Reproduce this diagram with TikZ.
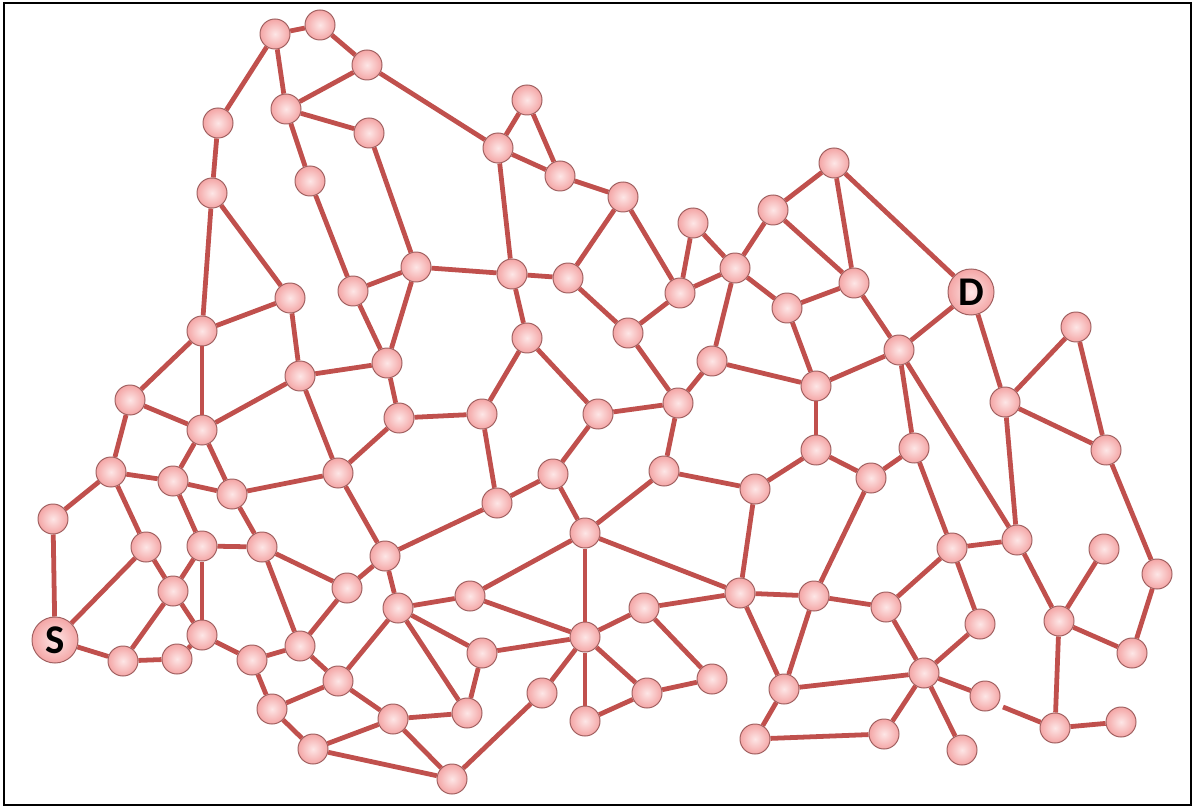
\documentclass[tikz,border=0pt]{standalone}
\usepackage{xcolor}
\usepackage{fontspec}
\setsansfont{Carlito}
\usepackage{tikz}
\definecolor{linkred}{RGB}{192,80,77}
\definecolor{rimred}{RGB}{160,96,96}
\definecolor{pinkin}{RGB}{253,230,230}
\definecolor{pinkout}{RGB}{244,166,166}

\begin{document}
\begin{tikzpicture}[x=0.025cm,y=-0.025cm,line width=3pt]
	    \tikzstyle{host}=[draw=rimred,line width=0.7pt,shape=circle,inner color=pinkin,outer color=pinkout,minimum size=0.75cm,inner sep=0pt]
	    \tikzstyle{term}=[host,minimum size=1.15cm,font=\sffamily\bfseries\fontsize{29}{31}\selectfont]
	    \tikzstyle{link}=[draw=linkred,line width=3.4pt]

	    \useasboundingbox (0,0) rectangle (1194,806);
	    \draw[line width=1pt,black] (4,3) rectangle (1191,805);

	    \node[host](v1) at (275,34){};
	    \node[host](v2) at (320,25){};
	    \node[host](v3) at (367,65){};
	    \node[host](v4) at (286,109){};
	    \node[host](v5) at (369,133){};
	    \node[host](v6) at (218,123){};
	    \node[host](v7) at (212,193){};
	    \node[host](v8) at (310,181){};
	    \node[host](v9) at (290,298){};
	    \node[host](v10) at (202,331){};
	    \node[host](v11) at (353,291){};
	    \node[host](v12) at (416,267){};
	    \node[host](v13) at (387,363){};
	    \node[host](v14) at (300,376){};
	    \node[host](v15) at (130,400){};
	    \node[host](v16) at (202,430){};
	    \node[host](v17) at (111,472){};
	    \node[host](v18) at (173,481){};
	    \node[host](v19) at (232,494){};
	    \node[host](v20) at (338,473){};
	    \node[host](v21) at (399,418){};
	    \node[host](v22) at (482,414){};
	    \node[host](v23) at (53,519){};
	    \node[host](v24) at (146,547){};
	    \node[host](v25) at (202,546){};
	    \node[host](v26) at (262,547){};
	    \node[host](v27) at (173,591){};
	    \node[host](v28) at (202,635){};
	    \node[term](src) at (55,640){S};
	    \node[host](v30) at (123,661){};
	    \node[host](v31) at (177,659){};
	    \node[host](v32) at (252,660){};
	    \node[host](v33) at (300,646){};
	    \node[host](v34) at (347,588){};
	    \node[host](v35) at (385,556){};
	    \node[host](v36) at (338,681){};
	    \node[host](v37) at (272,709){};
	    \node[host](v38) at (393,719){};
	    \node[host](v39) at (313,749){};
	    \node[host](v40) at (452,779){};
	    \node[host](v41) at (467,713){};
	    \node[host](v42) at (398,608){};
	    \node[host](v43) at (470,596){};
	    \node[host](v44) at (482,653){};
	    \node[host](v45) at (542,693){};
	    \node[host](v46) at (497,503){};
	    \node[host](v47) at (553,474){};
	    \node[host](v48) at (585,533){};
	    \node[host](v49) at (585,637){};
	    \node[host](v50) at (585,721){};
	    \node[host](v51) at (644,608){};
	    \node[host](v52) at (647,693){};
	    \node[host](v53) at (712,679){};
	    \node[host](v54) at (740,593){};
	    \node[host](v55) at (664,471){};
	    \node[host](v56) at (598,414){};
	    \node[host](v57) at (678,403){};
	    \node[host](v58) at (527,338){};
	    \node[host](v59) at (512,274){};
	    \node[host](v60) at (568,278){};
	    \node[host](v61) at (498,148){};
	    \node[host](v62) at (527,100){};
	    \node[host](v63) at (560,176){};
	    \node[host](v64) at (623,197){};
	    \node[host](v65) at (628,333){};
	    \node[host](v66) at (680,293){};
	    \node[host](v67) at (693,223){};
	    \node[host](v68) at (735,268){};
	    \node[host](v69) at (712,361){};
	    \node[host](v70) at (773,210){};
	    \node[host](v71) at (834,163){};
	    \node[host](v72) at (787,308){};
	    \node[host](v73) at (854,283){};
	    \node[term](dst) at (971,292){D};
	    \node[host](v75) at (899,350){};
	    \node[host](v76) at (816,386){};
	    \node[host](v77) at (816,450){};
	    \node[host](v78) at (871,478){};
	    \node[host](v79) at (914,448){};
	    \node[host](v80) at (755,489){};
	    \node[host](v81) at (1076,327){};
	    \node[host](v82) at (1005,402){};
	    \node[host](v83) at (1106,450){};
	    \node[host](v84) at (1017,540){};
	    \node[host](v85) at (952,548){};
	    \node[host](v86) at (1157,574){};
	    \node[host](v87) at (1104,549){};
	    \node[host](v88) at (1059,621){};
	    \node[host](v89) at (1132,653){};
	    \node[host](v90) at (1055,728){};
	    \node[host](v91) at (1121,722){};
	    \node[host](v92) at (985,696){};
	    \node[host](v93) at (924,673){};
	    \node[host](v94) at (980,624){};
	    \node[host](v95) at (886,607){};
	    \node[host](v96) at (814,596){};
	    \node[host](v97) at (784,689){};
	    \node[host](v98) at (755,739){};
	    \node[host](v99) at (884,734){};
	    \node[host](v100) at (962,750){};
	    \coordinate (cut) at (1003,707);

	    % left part
	    \draw[link] (v1) -- (v2);
	    \draw[link] (v2) -- (v3);
	    \draw[link] (v1) -- (v6);
	    \draw[link] (v1) -- (v4);
	    \draw[link] (v3) -- (v4);
	    \draw[link] (v4) -- (v5);
	    \draw[link] (v4) -- (v8);
	    \draw[link] (v5) -- (v12);
	    \draw[link] (v6) -- (v7);
	    \draw[link] (v7) -- (v10);
	    \draw[link] (v7) -- (v9);
	    \draw[link] (v8) -- (v11);
	    \draw[link] (v11) -- (v12);
	    \draw[link] (v9) -- (v10);
	    \draw[link] (v9) -- (v14);
	    \draw[link] (v11) -- (v13);
	    \draw[link] (v12) -- (v13);
	    \draw[link] (v14) -- (v13);
	    \draw[link] (v10) -- (v15);
	    \draw[link] (v10) -- (v16);
	    \draw[link] (v14) -- (v20);
	    \draw[link] (v13) -- (v21);
	    \draw[link] (v15) -- (v16);
	    \draw[link] (v14) -- (v16);
	    \draw[link] (v15) -- (v17);
	    \draw[link] (v17) -- (v18);
	    \draw[link] (v16) -- (v18);
	    \draw[link] (v16) -- (v19);
	    \draw[link] (v18) -- (v19);
	    \draw[link] (v19) -- (v20);
	    \draw[link] (v20) -- (v21);
	    \draw[link] (v17) -- (v23);
	    \draw[link] (v17) -- (v24);
	    \draw[link] (v18) -- (v25);
	    \draw[link] (v19) -- (v26);
	    \draw[link] (v20) -- (v35);
	    \draw[link] (v25) -- (v26);
	    \draw[link] (v24) -- (v27);
	    \draw[link] (v26) -- (v34);
	    \draw[link] (v34) -- (v35);
	    \draw[link] (v23) -- (src);
	    \draw[link] (v24) -- (src);
	    \draw[link] (src) -- (v30);
	    \draw[link] (v30) -- (v27);
	    \draw[link] (v30) -- (v31);
	    \draw[link] (v25) -- (v27);
	    \draw[link] (v27) -- (v28);
	    \draw[link] (v31) -- (v28);
	    \draw[link] (v25) -- (v28);
	    \draw[link] (v28) -- (v32);
	    \draw[link] (v26) -- (v33);
	    \draw[link] (v32) -- (v33);
	    \draw[link] (v34) -- (v33);
	    \draw[link] (v33) -- (v36);
	    \draw[link] (v32) -- (v37);
	    \draw[link] (v37) -- (v36);
	    \draw[link] (v36) -- (v38);
	    \draw[link] (v36) -- (v42);
	    \draw[link] (v37) -- (v39);
	    \draw[link] (v39) -- (v38);
	    \draw[link] (v39) -- (v40);
	    \draw[link] (v38) -- (v41);
	    \draw[link] (v38) -- (v40);

	    % middle part
	    \draw[link] (v3) -- (v61);
	    \draw[link] (v61) -- (v62);
	    \draw[link] (v62) -- (v63);
	    \draw[link] (v61) -- (v63);
	    \draw[link] (v63) -- (v64);
	    \draw[link] (v61) -- (v59);
	    \draw[link] (v64) -- (v60);
	    \draw[link] (v64) -- (v66);
	    \draw[link] (v60) -- (v59);
	    \draw[link] (v12) -- (v59);
	    \draw[link] (v59) -- (v58);
	    \draw[link] (v60) -- (v65);
	    \draw[link] (v65) -- (v66);
	    \draw[link] (v66) -- (v67);
	    \draw[link] (v67) -- (v68);
	    \draw[link] (v66) -- (v68);
	    \draw[link] (v68) -- (v70);
	    \draw[link] (v68) -- (v72);
	    \draw[link] (v68) -- (v69);
	    \draw[link] (v65) -- (v57);
	    \draw[link] (v69) -- (v57);
	    \draw[link] (v58) -- (v22);
	    \draw[link] (v58) -- (v56);
	    \draw[link] (v21) -- (v22);
	    \draw[link] (v56) -- (v57);
	    \draw[link] (v22) -- (v46);
	    \draw[link] (v35) -- (v46);
	    \draw[link] (v46) -- (v47);
	    \draw[link] (v47) -- (v56);
	    \draw[link] (v47) -- (v48);
	    \draw[link] (v57) -- (v55);
	    \draw[link] (v55) -- (v80);
	    \draw[link] (v55) -- (v48);
	    \draw[link] (v80) -- (v77);
	    \draw[link] (v80) -- (v54);
	    \draw[link] (v48) -- (v43);
	    \draw[link] (v48) -- (v49);
	    \draw[link] (v48) -- (v54);
	    \draw[link] (v35) -- (v42);
	    \draw[link] (v42) -- (v43);
	    \draw[link] (v43) -- (v49);
	    \draw[link] (v42) -- (v44);
	    \draw[link] (v44) -- (v49);
	    \draw[link] (v42) -- (v41);
	    \draw[link] (v44) -- (v41);
	    \draw[link] (v49) -- (v51);
	    \draw[link] (v51) -- (v54);
	    \draw[link] (v51) -- (v53);
	    \draw[link] (v52) -- (v53);
	    \draw[link] (v49) -- (v52);
	    \draw[link] (v49) -- (v50);
	    \draw[link] (v49) -- (v45);
	    \draw[link] (v45) -- (v40);
	    \draw[link] (v50) -- (v52);
	    \draw[link] (v54) -- (v96);
	    \draw[link] (v54) -- (v97);
	    \draw[link] (v97) -- (v98);
	    \draw[link] (v98) -- (v99);

	    % right part
	    \draw[link] (v70) -- (v71);
	    \draw[link] (v71) -- (v73);
	    \draw[link] (v71) -- (dst);
	    \draw[link] (v70) -- (v73);
	    \draw[link] (v72) -- (v73);
	    \draw[link] (v73) -- (v75);
	    \draw[link] (dst) -- (v75);
	    \draw[link] (dst) -- (v82);
	    \draw[link] (v82) -- (v81);
	    \draw[link] (v82) -- (v83);
	    \draw[link] (v81) -- (v83);
	    \draw[link] (v72) -- (v76);
	    \draw[link] (v76) -- (v75);
	    \draw[link] (v69) -- (v76);
	    \draw[link] (v75) -- (v79);
	    \draw[link] (v75) -- (v84);
	    \draw[link] (v76) -- (v77);
	    \draw[link] (v77) -- (v78);
	    \draw[link] (v78) -- (v79);
	    \draw[link] (v78) -- (v96);
	    \draw[link] (v82) -- (v84);
	    \draw[link] (v83) -- (v86);
	    \draw[link] (v86) -- (v89);
	    \draw[link] (v79) -- (v85);
	    \draw[link] (v85) -- (v84);
	    \draw[link] (v85) -- (v94);
	    \draw[link] (v85) -- (v95);
	    \draw[link] (v96) -- (v95);
	    \draw[link] (v96) -- (v97);
	    \draw[link] (v95) -- (v93);
	    \draw[link] (v94) -- (v93);
	    \draw[link] (v93) -- (v92);
	    \draw[link] (v93) -- (v97);
	    \draw[link] (v93) -- (v99);
	    \draw[link] (v93) -- (v100);
	    \draw[link] (v84) -- (v88);
	    \draw[link] (v88) -- (v87);
	    \draw[link] (v88) -- (v89);
	    \draw[link] (v88) -- (v90);
	    \draw[link] (v90) -- (v91);
	    \draw[link] (cut) -- (v90);
	\end{tikzpicture}
\end{document}
